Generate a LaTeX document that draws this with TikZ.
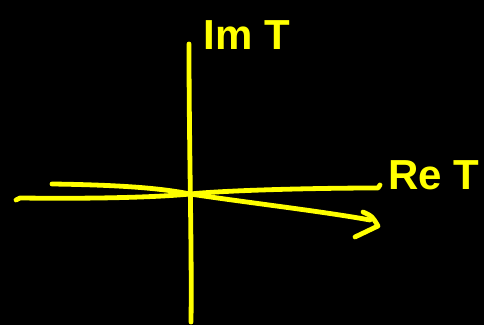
\documentclass[tikz,border=0pt]{standalone}
\usepackage{fontspec}
\setmainfont{Liberation Sans}
\usetikzlibrary{positioning}
\definecolor{cPen}{RGB}{255,255,0}

\begin{document}
\begin{tikzpicture}[x=0.5pt,y=-0.5pt,
   pen/.style={cPen,line width=2.4pt,line cap=round,line join=round},
   lab/.style={text=cPen,font=\bfseries\fontsize{21}{24}\selectfont,inner sep=0pt,anchor=base west}]
  \fill[black] (0,0) rectangle (484,325);
  \useasboundingbox (0,0) rectangle (484,325);
  % axes meet here
  \coordinate (o) at (190,194);
  \coordinate (imtop) at (189,44);
  \coordinate (imbot) at (191,322);
  \coordinate (ra) at (52,184);
  \coordinate (rb) at (378,188);
  \coordinate (sa) at (16,200);
  \coordinate (sb) at (370,220);
  \draw[pen] (imtop) .. controls (189,150) and (192,250) .. (imbot);
  \draw[pen] (ra) .. controls (120,185) and (160,188) .. (o)
             .. controls (230,190) and (320,188) .. (rb) -- ++(2,-3);
  \draw[pen] (sa) -- ++(4,-2) .. controls (100,199) and (160,197) .. (o)
             .. controls (250,203) and (320,211) .. (sb);
  \draw[pen] (363,212) .. controls (372,216) .. (378,226) -- (355,237);
  \node[lab] (re) at (388,190) {Re T};
  \node[lab] (im) at (203,50) {Im T};
\end{tikzpicture}
\end{document}
